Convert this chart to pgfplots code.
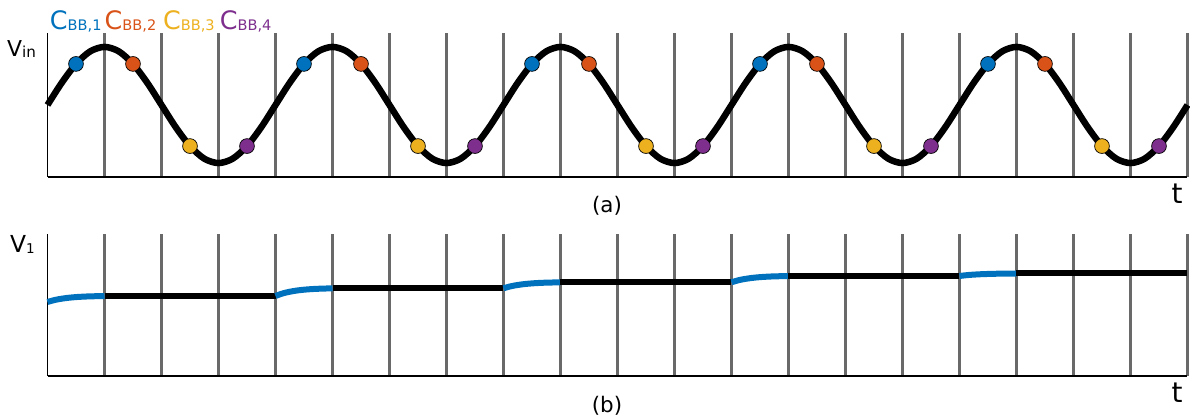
\documentclass[border=0pt]{standalone}
\usepackage{pgfplots}
\pgfplotsset{compat=1.18}
\usepackage{fontspec}
\setmainfont{DejaVu Sans}
\definecolor{cb1}{RGB}{0,114,189}
\definecolor{cb2}{RGB}{217,83,25}
\definecolor{cb3}{RGB}{237,177,32}
\definecolor{cb4}{RGB}{126,47,142}
\definecolor{gridg}{RGB}{105,105,105}
\pgfplotsset{
  panel/.style={
    scale only axis, width=1140bp, xmin=0, xmax=20,
    axis x line*=bottom, axis y line*=left,
    axis line style={-, line width=1.2bp, black},
    xtick={1,...,20}, ytick=\empty, xticklabels={},
    major tick length=0pt,
    xmajorgrids, grid style={line width=3.8bp, gridg},
    clip=false,
  }
}
\newcommand{\leg}[2]{\textcolor{#1}{\fontsize{25.5}{25.5}\selectfont C\raisebox{-0.5bp}{\fontsize{14.6}{14.6}\selectfont BB,#2}}}
\begin{document}
\begin{tikzpicture}
\path[use as bounding box] (0,0) rectangle (1190bp,417bp);
% ---------- (a) ----------
\begin{axis}[panel, at={(47.5bp,240bp)}, anchor=south west, height=144bp, ymin=-1.24, ymax=1.24]
\addplot[black, line width=6.5bp, smooth] coordinates {
(0,0) (0.25,0.3827) (0.5,0.7071) (0.75,0.9239) (1,1) (1.25,0.9239) (1.5,0.7071) (1.75,0.3827)
(2,0) (2.25,-0.3827) (2.5,-0.7071) (2.75,-0.9239) (3,-1) (3.25,-0.9239) (3.5,-0.7071) (3.75,-0.3827)
(4,0) (4.25,0.3827) (4.5,0.7071) (4.75,0.9239) (5,1) (5.25,0.9239) (5.5,0.7071) (5.75,0.3827)
(6,0) (6.25,-0.3827) (6.5,-0.7071) (6.75,-0.9239) (7,-1) (7.25,-0.9239) (7.5,-0.7071) (7.75,-0.3827)
(8,0) (8.25,0.3827) (8.5,0.7071) (8.75,0.9239) (9,1) (9.25,0.9239) (9.5,0.7071) (9.75,0.3827)
(10,0) (10.25,-0.3827) (10.5,-0.7071) (10.75,-0.9239) (11,-1) (11.25,-0.9239) (11.5,-0.7071) (11.75,-0.3827)
(12,0) (12.25,0.3827) (12.5,0.7071) (12.75,0.9239) (13,1) (13.25,0.9239) (13.5,0.7071) (13.75,0.3827)
(14,0) (14.25,-0.3827) (14.5,-0.7071) (14.75,-0.9239) (15,-1) (15.25,-0.9239) (15.5,-0.7071) (15.75,-0.3827)
(16,0) (16.25,0.3827) (16.5,0.7071) (16.75,0.9239) (17,1) (17.25,0.9239) (17.5,0.7071) (17.75,0.3827)
(18,0) (18.25,-0.3827) (18.5,-0.7071) (18.75,-0.9239) (19,-1) (19.25,-0.9239) (19.5,-0.7071) (19.75,-0.3827)
(20,0)};
\addplot[only marks, mark=*, mark size=7.4bp, mark options={fill=cb1, draw=black, line width=0.7bp}]
  coordinates {(0.5,0.7071) (4.5,0.7071) (8.5,0.7071) (12.5,0.7071) (16.5,0.7071)};
\addplot[only marks, mark=*, mark size=7.4bp, mark options={fill=cb2, draw=black, line width=0.7bp}]
  coordinates {(1.5,0.7071) (5.5,0.7071) (9.5,0.7071) (13.5,0.7071) (17.5,0.7071)};
\addplot[only marks, mark=*, mark size=7.4bp, mark options={fill=cb3, draw=black, line width=0.7bp}]
  coordinates {(2.5,-0.7071) (6.5,-0.7071) (10.5,-0.7071) (14.5,-0.7071) (18.5,-0.7071)};
\addplot[only marks, mark=*, mark size=7.4bp, mark options={fill=cb4, draw=black, line width=0.7bp}]
  coordinates {(3.5,-0.7071) (7.5,-0.7071) (11.5,-0.7071) (15.5,-0.7071) (19.5,-0.7071)};
\node[anchor=base west, inner sep=0pt] at (rel axis cs:0.0020,1.0215) {\leg{cb1}{1}};
\node[anchor=base west, inner sep=0pt] at (rel axis cs:0.0500,1.0215) {\leg{cb2}{2}};
\node[anchor=base west, inner sep=0pt] at (rel axis cs:0.1012,1.0215) {\leg{cb3}{3}};
\node[anchor=base west, inner sep=0pt] at (rel axis cs:0.1510,1.0215) {\leg{cb4}{4}};
\end{axis}
% ---------- (b) ----------
\begin{axis}[panel, at={(47.5bp,41bp)}, anchor=south west, height=142bp, ymin=0, ymax=142]
\addplot[cb1, line width=6bp, smooth] coordinates {(0,74) (0.1,75.64) (0.2,76.85) (0.35,78.11) (0.5,78.91) (0.7,79.54) (1,80)};
\addplot[black, line width=6bp] coordinates {(1,80) (4,80)};
\addplot[cb1, line width=6bp, smooth] coordinates {(4,80) (4.1,82.10) (4.2,83.66) (4.35,85.27) (4.5,86.30) (4.7,87.11) (5,87.7)};
\addplot[black, line width=6bp] coordinates {(5,87.7) (8,87.7)};
\addplot[cb1, line width=6bp, smooth] coordinates {(8,87.7) (8.1,89.34) (8.2,90.55) (8.35,91.81) (8.5,92.61) (8.7,93.24) (9,93.7)};
\addplot[black, line width=6bp] coordinates {(9,93.7) (12,93.7)};
\addplot[cb1, line width=6bp, smooth] coordinates {(12,93.7) (12.1,95.42) (12.2,96.69) (12.35,98.01) (12.5,98.85) (12.7,99.52) (13,100)};
\addplot[black, line width=6bp] coordinates {(13,100) (16,100)};
\addplot[cb1, line width=6bp, smooth] coordinates {(16,100) (16.1,100.68) (16.2,101.19) (16.35,101.71) (16.5,102.04) (16.7,102.31) (17,102.5)};
\addplot[black, line width=6bp] coordinates {(17,102.5) (20,102.5)};
\end{axis}
% ---------- labels ----------
\node[anchor=base west, inner sep=0pt] at (7bp,360bp) {\fontsize{22}{22}\selectfont V\raisebox{-1bp}{\fontsize{15.2}{15.2}\selectfont in}};
\node[anchor=base west, inner sep=0pt] at (10bp,164bp) {\fontsize{23.5}{23.5}\selectfont V\raisebox{-1bp}{\fontsize{13.5}{13.5}\selectfont 1}};
\node[anchor=base, inner sep=0pt] at (1177bp,213bp) {\fontsize{28}{28}\selectfont t};
\node[anchor=base, inner sep=0pt] at (1177bp,15bp) {\fontsize{28}{28}\selectfont t};
\node[anchor=center, inner sep=0pt] at (607bp,211bp) {\fontsize{21.5}{21.5}\selectfont (a)};
\node[anchor=center, inner sep=0pt] at (607bp,11bp) {\fontsize{21.5}{21.5}\selectfont (b)};
\end{tikzpicture}
\end{document}
